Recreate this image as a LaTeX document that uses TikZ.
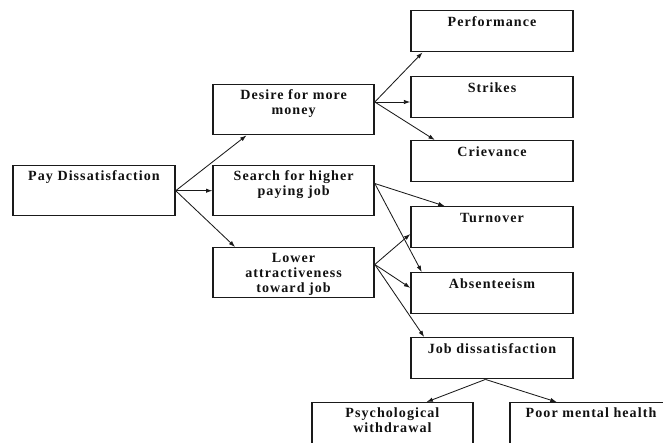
\documentclass[tikz,border=0pt]{standalone}
\usepackage{fontspec}
\setmainfont{Liberation Serif}[LetterSpace=7.5]
\usepackage{tikz}
\usetikzlibrary{calc,arrows.meta}
\definecolor{LineGray}{HTML}{1A1A1A}
\definecolor{InkBlack}{HTML}{111111}
\tikzset{
  bx/.style={draw=LineGray,line width=1pt,anchor=north,inner sep=0pt,
    minimum width=4.05cm,align=center,text=InkBlack,
    font=\bfseries\fontsize{10}{10.6}\selectfont},
  bxl/.style={bx,text height=0.37cm,text depth=0.88cm},
  bxs/.style={bx,text height=0.40cm,text depth=0.625cm},
  two/.style={text height=0.744cm,text depth=0.506cm},
  three/.style={text height=1.118cm,text depth=0.132cm},
  flow/.style={-{Latex[length=1.6mm,width=1.1mm]},draw=LineGray,line width=0.6pt},
}
\begin{document}
\begin{tikzpicture}[x=1cm,y=1cm]
\useasboundingbox (0,0) rectangle (16.575,-11.05);
% causes
\node[bxl] (pay) at (2.35,-4.125) {Pay Dissatisfaction};
\node[bxl,two,minimum width=4.025cm] (desire) at (7.34,-2.10) {Desire for more\\money};
\node[bxl,two,minimum width=4.025cm] (search) at (7.34,-4.125) {Search for higher\\paying job};
\node[bxl,three,minimum width=4.025cm] (lower) at (7.34,-6.175) {Lower\\attractiveness\\toward job};

% outcomes
\node[bxs] (perf) at (12.30,-0.25) {Performance};
\node[bxs] (strikes) at (12.30,-1.90) {Strikes};
\node[bxs] (griev) at (12.30,-3.50) {Crievance};
\node[bxs] (turn) at (12.30,-5.15) {Turnover};
\node[bxs] (absent) at (12.30,-6.80) {Absenteeism};
\node[bxs] (jobd) at (12.30,-8.425) {Job dissatisfaction};
\node[bxl,two,minimum width=4.025cm] (psych) at (9.81,-10.05) {Psychological\\withdrawal};
\node[bxl] (poor) at (14.775,-10.05) {Poor mental health};

% exit points
\coordinate (dOut) at ($(desire.north east)!0.35!(desire.south east)$);
\coordinate (sOut) at ($(search.north east)!0.36!(search.south east)$);
\coordinate (lOut) at ($(lower.north east)!0.34!(lower.south east)$);
\coordinate (jOut) at ($(jobd.south west)!0.46!(jobd.south east)$);

\draw[flow] (pay.east) -- ($(desire.south west)!0.21!(desire.south east)$);
\draw[flow] (pay.east) -- (search.west);
\draw[flow] (pay.east) -- ($(lower.north west)!0.14!(lower.north east)$);

\draw[flow] (dOut) -- ($(perf.south west)!0.075!(perf.south east)$);
\draw[flow] (dOut) -- (dOut -| strikes.west);
\draw[flow] (dOut) -- ($(griev.north west)!0.15!(griev.north east)$);

\draw[flow] (sOut) -- ($(turn.north west)!0.21!(turn.north east)$);
\draw[flow] (sOut) -- ($(absent.north west)!0.07!(absent.north east)$);

\draw[flow] (lOut) -- ($(turn.north west)!0.66!(turn.south west)$);
\draw[flow] (lOut) -- ($(absent.north west)!0.375!(absent.south west)$);
\draw[flow] (lOut) -- ($(jobd.north west)!0.085!(jobd.north east)$);

\draw[flow] (jOut) -- ($(psych.north west)!0.71!(psych.north east)$);
\draw[flow] (jOut) -- ($(poor.north west)!0.29!(poor.north east)$);
\end{tikzpicture}
\end{document}
